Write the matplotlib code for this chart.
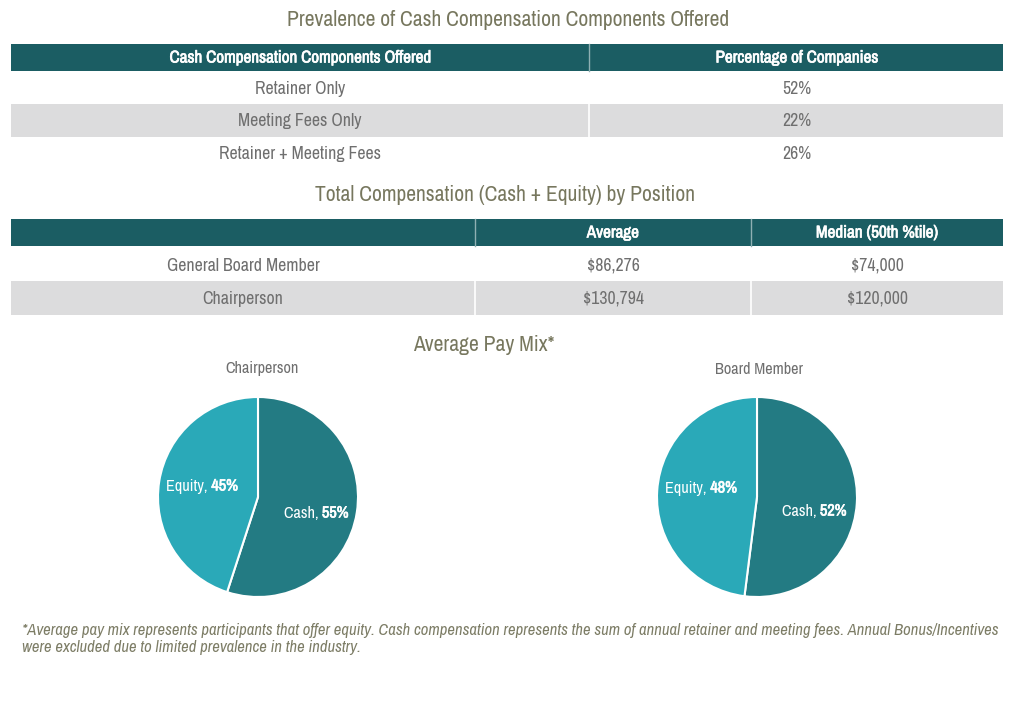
import matplotlib
matplotlib.use("Agg")
import matplotlib.pyplot as plt
from matplotlib.patches import Rectangle
from matplotlib import font_manager
import matplotlib.patheffects as pe

# ---------------- data ----------------
title1 = "Prevalence of Cash Compensation Components Offered"
t1_headers = ["Cash Compensation Components Offered", "Percentage of Companies"]
t1_components = ["Retainer Only", "Meeting Fees Only", "Retainer + Meeting Fees"]
t1_percent = [52, 22, 26]

title2 = "Total Compensation (Cash + Equity) by Position"
t2_headers = ["", "Average", "Median (50th %tile)"]
t2_positions = ["General Board Member", "Chairperson"]
t2_average = [86276, 130794]
t2_median = [74000, 120000]

title3 = "Average Pay Mix*"
pie_titles = ["Chairperson", "Board Member"]
pie_labels = ["Cash", "Equity"]
pie_cash = [55, 52]
pie_equity = [45, 48]

footnote = ("*Average pay mix represents participants that offer equity. Cash compensation represents the sum of annual retainer and meeting fees. Annual Bonus/Incentives\n"
            "were excluded due to limited prevalence in the industry.")

# ---------------- style ----------------
ttf = font_manager.fontManager.ttflist
cond = sorted({f.name for f in ttf
               if str(f.stretch) in ("condensed", "semi-condensed", "extra-condensed", "575", "625", "750")
               or "Narrow" in f.name or "Condensed" in f.name})
has_bold = False
if cond:
    plt.rcParams["font.family"] = [cond[0], "DejaVu Sans"]
    plt.rcParams["font.stretch"] = "condensed"
    SCALE = 1.0
    has_bold = any(f.name == cond[0] and (f.weight in ("bold", "semibold", "heavy", "black")
                   or (isinstance(f.weight, int) and f.weight >= 600)) for f in ttf)
else:
    plt.rcParams["font.family"] = ["Roboto", "DejaVu Sans"]
    SCALE = 0.9
    has_bold = True


def bold_kw(color):
    if has_bold:
        return dict(weight="bold")
    return dict(path_effects=[pe.withStroke(linewidth=0.5, foreground=color)])


HEAD = "#1b5d63"
GREY_ROW = "#dcdcdd"
TXT = "#6f6f6f"
TITLE = "#77775e"
CASH = "#237b83"
EQUITY = "#2aa9b8"

W, H = 1024, 707
fig = plt.figure(figsize=(W / 100, H / 100), dpi=100)
ax = fig.add_axes([0, 0, 1, 1])
ax.set_xlim(0, W)
ax.set_ylim(H, 0)
ax.axis("off")

fs_title = 15.5 * SCALE
fs = 12.8 * SCALE
fs_head = 12.3 * SCALE
fs_pie = 11.7 * SCALE
L, R = 11, 1003

# ---- table 1 ----
ax.text(508, 20, title1, ha="center", va="center", fontsize=fs_title, color=TITLE)
ax.add_patch(Rectangle((L, 44), R - L, 27, color=HEAD, lw=0))
ax.plot([589, 589], [44, 71], color="#8fb0b3", lw=1)
ax.text(300, 58, t1_headers[0], ha="center", va="center", fontsize=fs_head, color="white", **bold_kw("white"))
ax.text(797, 58, t1_headers[1], ha="center", va="center", fontsize=fs_head, color="white", **bold_kw("white"))
row_top = 72
rh = 32.3
for i, (c, p) in enumerate(zip(t1_components, t1_percent)):
    y0 = row_top + i * rh
    if i % 2 == 1:
        ax.add_patch(Rectangle((L, y0), R - L, rh, color=GREY_ROW, lw=0))
        ax.plot([589, 589], [y0, y0 + rh], color="white", lw=1.2)
    ax.text(300, y0 + rh / 2 + 1, c, ha="center", va="center", fontsize=fs, color=TXT)
    ax.text(797, y0 + rh / 2 + 1, f"{p}%", ha="center", va="center", fontsize=fs, color=TXT)

# ---- table 2 ----
ax.text(505, 195, title2, ha="center", va="center", fontsize=fs_title, color=TITLE)
ax.add_patch(Rectangle((L, 219), R - L, 27, color=HEAD, lw=0))
for xd in (475, 751):
    ax.plot([xd, xd], [219, 246], color="#8fb0b3", lw=1)
cols = [243, 613, 877]
for xc, h in zip(cols, t2_headers):
    ax.text(xc, 233, h, ha="center", va="center", fontsize=fs_head, color="white", **bold_kw("white"))
row_top = 248
rh = 33.3
for i, (pos, a, m) in enumerate(zip(t2_positions, t2_average, t2_median)):
    y0 = row_top + i * rh
    if i % 2 == 1:
        ax.add_patch(Rectangle((L, y0), R - L, rh, color=GREY_ROW, lw=0))
        for xd in (475, 751):
            ax.plot([xd, xd], [y0, y0 + rh], color="white", lw=1.2)
    ax.text(cols[0], y0 + rh / 2 + 1, pos, ha="center", va="center", fontsize=fs, color=TXT)
    ax.text(cols[1], y0 + rh / 2 + 1, f"${a:,}", ha="center", va="center", fontsize=fs, color=TXT)
    ax.text(cols[2], y0 + rh / 2 + 1, f"${m:,}", ha="center", va="center", fontsize=fs, color=TXT)

# ---- pies ----
ax.text(484, 345, title3, ha="center", va="center", fontsize=fs_title, color=TITLE)
centers = [(258, 497), (757, 497)]
title_x = [262, 759]
radius = 100
pad = 3
label_pos = {  # (x, y) pixel centre of each label
    0: [(316, 513), (202, 486)],
    1: [(814, 511), (701, 488)],
}
for k in range(2):
    cx, cy = centers[k]
    ax.text(title_x[k], 369, pie_titles[k], ha="center", va="center", fontsize=fs_pie, color=TXT)
    rr = radius + pad
    pax = fig.add_axes([(cx - rr) / W, (H - cy - rr) / H, 2 * rr / W, 2 * rr / H])
    pax.pie([pie_cash[k], pie_equity[k]], colors=[CASH, EQUITY], startangle=90,
            counterclock=False, radius=1,
            wedgeprops=dict(edgecolor="white", linewidth=1.5))
    lim = rr / radius
    pax.set_xlim(-lim, lim)
    pax.set_ylim(-lim, lim)
    pax.axis("off")

# overlay for pie labels and footnote
ov = fig.add_axes([0, 0, 1, 1])
ov.set_xlim(0, W)
ov.set_ylim(H, 0)
ov.axis("off")
ov.patch.set_alpha(0)
r = fig.canvas.get_renderer()
for k in range(2):
    vals = [pie_cash[k], pie_equity[k]]
    for j in range(2):
        lx, ly = label_pos[k][j]
        name = pie_labels[j] + ", "
        val = f"{vals[j]}%"
        t1 = ov.text(0, 0, name, fontsize=fs_pie)
        t2 = ov.text(0, 0, val, fontsize=fs_pie, **bold_kw("white"))
        w1 = t1.get_window_extent(r).width
        w2 = t2.get_window_extent(r).width
        t1.remove(); t2.remove()
        left = lx - (w1 + w2) / 2
        ov.text(left, ly, name, ha="left", va="center", fontsize=fs_pie, color="white")
        ov.text(left + w1, ly, val, ha="left", va="center", fontsize=fs_pie, color="white",
                **bold_kw("white"))

# ---- footnote ----
ft = ov.text(22, 639, footnote, ha="left", va="center", fontsize=11, color="#7d7d66",
             style="italic", linespacing=1.2)
wft = ft.get_window_extent(r).width
ft.set_fontsize(11 * 978 / wft)

fig.savefig("out.png", dpi=100)
